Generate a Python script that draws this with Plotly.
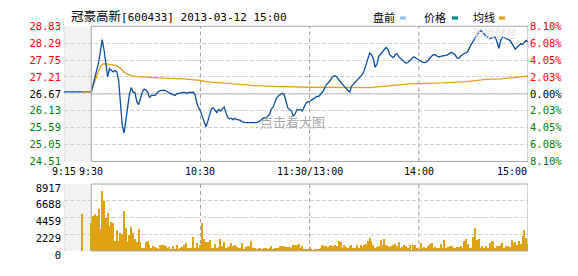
import plotly.graph_objects as go

# ---------------- data ----------------
prev_close = 26.67
price_ticks = [24.51, 25.05, 25.59, 26.13, 26.67, 27.21, 27.75, 28.29, 28.83]
pct_labels = ["8.10%", "6.08%", "4.05%", "2.03%", "0.00%", "2.03%", "4.05%", "6.08%", "8.10%"]
vol_ticks = [0, 2229, 4459, 6688, 8917]
time_tick_minutes = [-15, 0, 60, 120, 180, 240]
time_tick_labels = ["9:15", "9:30", "10:30", "11:30/13:00", "14:00", "15:00"]

pre_minutes = [-15, 0]
pre_prices = [26.73, 26.73]
auction_minute = [-5]
auction_volume = [4940]

# one value per trading minute, 9:30 .. 11:30, 13:00 .. 15:00
price = [
    26.73, 26.97, 27.17, 27.47, 27.67, 28.02, 28.40, 28.07, 27.67, 27.22,
    27.47, 27.42, 27.37, 27.42, 27.37, 27.12, 26.37, 25.67, 25.42, 25.87,
    26.27, 26.67, 26.87, 26.72, 26.72, 26.42, 26.32, 26.57, 26.72, 26.82,
    26.79, 26.72, 26.55, 26.62, 26.62, 26.62, 26.69, 26.75, 26.77, 26.79,
    26.79, 26.77, 26.72, 26.69, 26.67, 26.65, 26.62, 26.67, 26.69, 26.69,
    26.71, 26.72, 26.69, 26.71, 26.72, 26.72, 26.72, 26.65, 26.37, 26.22,
    26.12, 25.95, 25.77, 25.62, 25.79, 26.02, 26.19, 26.22, 26.15, 26.07,
    26.17, 26.12, 26.19, 26.25, 26.07, 25.92, 25.87, 25.89, 25.84, 25.89,
    25.85, 25.84, 25.82, 25.77, 25.75, 25.75, 25.75, 25.75, 25.76, 25.77,
    25.75, 25.75, 25.79, 25.81, 25.87, 25.91, 25.89, 25.97, 26.02, 26.19,
    26.25, 26.42, 26.55, 26.62, 26.65, 26.69, 26.65, 26.47, 26.22, 26.17,
    26.12, 25.97, 26.02, 26.17, 26.15, 26.17, 26.12, 26.25, 26.37, 26.42,
    26.42, 26.47, 26.52, 26.57, 26.59, 26.59, 26.65, 26.72, 26.82, 26.95,
    27.01, 27.07, 27.17, 27.23, 27.25, 27.21, 27.12, 27.04, 26.97, 26.91,
    26.85, 26.77, 26.72, 26.91, 26.97, 27.03, 27.09, 27.17, 27.23, 27.29,
    27.42, 27.62, 27.85, 27.97, 27.92, 27.79, 27.52, 27.62, 27.87, 27.94,
    28.02, 28.10, 28.15, 28.09, 27.92, 27.87, 27.83, 27.91, 27.95, 27.85,
    27.80, 27.75, 27.69, 27.65, 27.67, 27.72, 27.79, 27.85, 27.83, 27.79,
    27.74, 27.71, 27.68, 27.67, 27.68, 27.73, 27.81, 27.87, 27.92, 27.92,
    27.88, 27.85, 27.87, 27.87, 27.89, 27.90, 27.92, 27.97, 27.99, 27.96,
    27.91, 27.82, 27.81, 27.88, 27.93, 27.96, 27.98, 28.03, 28.17, 28.27,
    28.34, 28.44, 28.55, 28.64, 28.70, 28.63, 28.56, 28.51, 28.48, 28.43,
    28.46, 28.48, 28.48, 28.33, 28.12, 28.38, 28.48, 28.47, 28.44, 28.41,
    28.38, 28.30, 28.22, 28.10, 28.16, 28.22, 28.27, 28.25, 28.30, 28.38, 28.33,
]

avg_minutes = [-5, 0, 1, 2, 3, 4, 5, 6, 8, 10, 12, 14, 16, 18, 20, 22, 25, 30, 35, 40,
               50, 57, 60, 63, 70, 75, 80, 85, 90, 100, 110, 120, 153, 159, 166, 175,
               188, 193, 206, 212, 217, 225, 232, 240]
avg_prices = [26.73, 26.73, 26.92, 27.09, 27.27, 27.42, 27.55, 27.62, 27.63, 27.61,
              27.59, 27.57, 27.49, 27.37, 27.29, 27.25, 27.22, 27.20, 27.18, 27.17,
              27.15, 27.13, 27.10, 27.06, 27.03, 27.01, 26.98, 26.95, 26.93, 26.91,
              26.89, 26.88, 26.87, 26.91, 26.94, 26.99, 27.00, 27.02, 27.06, 27.11,
              27.13, 27.15, 27.19, 27.24]

volume = [
    3770, 4690, 4900, 4610, 5530, 2930, 7960, 6700, 4320, 5030,
    3350, 3900, 3690, 1380, 2720, 1260, 2430, 2300, 5280, 3060,
    1170, 2100, 3140, 2390, 1550, 1130, 2890, 1130, 420, 340,
    1130, 1340, 840, 340, 630, 500, 340, 210, 750, 750,
    750, 630, 340, 500, 250, 630, 250, 750, 250, 380,
    500, 750, 1050, 340, 340, 340, 1890, 340, 1050, 340,
    840, 3770,
    1550, 1130, 1130, 1470, 340, 340, 920, 340, 500, 1550,
    630, 1170, 420, 500, 670, 1050, 670, 750, 500, 340,
    340, 1010, 290, 500, 630, 630, 1260,
    340, 340, 290, 340, 340, 290, 340, 340,
    250, 340, 590, 210, 340, 340, 420, 670, 590, 590, 500, 500,
    500, 340, 750, 750, 840, 920, 340, 630, 210, 250, 170, 500,
    130, 80, 210, 170, 170, 340, 840, 590, 630, 550,
    840, 630, 670, 840, 630, 1260, 1170, 420, 750, 500,
    420, 630, 750, 340, 340, 750, 340, 750, 500, 840,
    920, 1260, 1760, 1260, 750, 340, 500, 630, 1510, 840,
    1590, 840, 630, 500, 630, 750, 960, 630, 1170, 340,
    500, 750, 630, 340, 750, 80, 750, 750, 340, 210,
    1010, 340, 500, 340, 630, 920, 1010, 340, 500, 340,
    340, 920, 340, 1510, 340, 500, 630, 630, 340, 340,
    500, 500, 630, 340, 1260, 1590, 920, 340, 340, 1890,
    3060, 1430, 1550, 340, 630, 340, 630, 340, 1050, 1260,
    1130, 340, 630, 630, 750, 1050, 340, 630, 630, 500,
    1510, 1050, 1130, 840, 1260, 920, 2010, 2770, 1760, 920,
]

# ---------------- styling ----------------
BLUE = "#0b4ea2"
GOLD = "#e0a212"
RED = "#ff0000"
GREEN = "#008000"
MONO = "DejaVu Sans Mono, Liberation Mono, monospace"
CJK = "DejaVu Sans Mono, Noto Sans CJK SC, sans-serif"

minutes = list(range(len(price)))


def colored(text, value):
    if value > prev_close + 1e-9:
        c = RED
    elif value < prev_close - 1e-9:
        c = GREEN
    else:
        c = "#000000"
    return f"<span style='color:{c}'>{text}</span>"


left_text = [colored(f"{v:.2f}", v) for v in price_ticks]
right_text = [colored(t, v) for t, v in zip(pct_labels, price_ticks)]

fig = go.Figure()
fig.add_trace(go.Scatter(x=pre_minutes, y=pre_prices, mode="lines",
                         line=dict(color=BLUE, width=1.3), xaxis="x", yaxis="y",
                         hoverinfo="skip"))
fig.add_trace(go.Scatter(x=avg_minutes, y=avg_prices, mode="lines",
                         line=dict(color=GOLD, width=1.3), xaxis="x", yaxis="y"))
fig.add_trace(go.Scatter(x=minutes, y=price, mode="lines",
                         line=dict(color=BLUE, width=1.3), xaxis="x", yaxis="y"))
fig.add_trace(go.Scatter(x=minutes, y=price, mode="lines", opacity=0,
                         xaxis="x", yaxis="y2", hoverinfo="skip"))
fig.add_trace(go.Bar(x=auction_minute + minutes, y=auction_volume + volume,
                     marker=dict(color=GOLD, line=dict(width=0)), width=0.6,
                     xaxis="x2", yaxis="y3"))

xdom = [64 / 578, 528 / 578]
pdom = [1 - 165 / 276, 1 - 21.5 / 276]
vdom = [1 - 260 / 276, 1 - 189 / 276]
GRID = "#d2d2d2"

axis_common = dict(showgrid=False, zeroline=False, showline=False, showticklabels=False,
                   ticks="", range=[-15, 240], domain=xdom, fixedrange=True)

fig.update_layout(
    width=578, height=276, margin=dict(l=0, r=0, t=0, b=0),
    paper_bgcolor="white", plot_bgcolor="white", showlegend=False, bargap=0,
    xaxis=dict(anchor="y", **axis_common),
    xaxis2=dict(anchor="y3", **axis_common),
    yaxis=dict(domain=pdom, range=[24.51, 28.83], tickvals=price_ticks, ticktext=left_text,
               showgrid=True, gridcolor=GRID, griddash="4px,2px", gridwidth=1,
               zeroline=False, showline=False, ticks="", ticklabelstandoff=2,
               tickfont=dict(family=MONO, size=10.5), anchor="x", fixedrange=True),
    yaxis2=dict(overlaying="y", side="right", range=[24.51, 28.83], tickvals=price_ticks,
                ticktext=right_text, showgrid=False, zeroline=False, showline=False,
                ticks="", ticklabelstandoff=1, tickfont=dict(family=MONO, size=10.5),
                anchor="x", fixedrange=True),
    yaxis3=dict(domain=vdom, range=[0, 8917], tickvals=vol_ticks,
                ticktext=[str(v) for v in vol_ticks],
                showgrid=True, gridcolor=GRID, griddash="4px,2px", gridwidth=1,
                zeroline=False, showline=False, ticks="", ticklabelstandoff=2,
                ticklabelshift=4,
                tickfont=dict(family=MONO, size=10.5, color="#000"), anchor="x2",
                fixedrange=True),
)

shapes = []
# pre-market shaded area
for xr, yr in (("x", "y domain"), ("x2", "y3 domain")):
    shapes.append(dict(type="rect", xref=xr, yref=yr, x0=-15, x1=0, y0=0, y1=1,
                       fillcolor="#f2f2f2", line=dict(width=0), layer="below"))
    shapes.append(dict(type="line", xref=xr, yref=yr, x0=-15, x1=-15, y0=0, y1=1,
                       line=dict(color="#cccccc", width=1, dash="4px,2px"), layer="below"))
    for t in (60, 120, 180):
        shapes.append(dict(type="line", xref=xr, yref=yr, x0=t, x1=t, y0=0, y1=1,
                           line=dict(color="#a0a0a0", width=1, dash="4px,3px"), layer="below"))
    shapes.append(dict(type="rect", xref=xr, yref=yr, x0=0, x1=240, y0=0, y1=1,
                       line=dict(color="#a6a6a6", width=1), layer="above"))
# previous close line
shapes.append(dict(type="line", xref="x", yref="y", x0=0, x1=240, y0=prev_close, y1=prev_close,
                   line=dict(color="#a6a6a6", width=1), layer="below"))
# legend swatches
for x0, col in ((400, "#8fc6ee"), (452, "#078c80"), (499, "#e0a626")):
    shapes.append(dict(type="rect", xref="paper", yref="paper",
                       x0=x0 / 578, x1=(x0 + 6) / 578, y0=1 - 14.5 / 276, y1=1 - 11 / 276,
                       fillcolor=col, line=dict(width=0)))
fig.update_layout(shapes=shapes)

ann = []
ann.append(dict(xref="paper", yref="paper", x=69 / 578, y=1 - 11 / 276, xanchor="left",
                yanchor="middle", showarrow=False,
                text="<span style='font-size:12.5px'>冠豪高新</span>[600433] 2013-03-12 15:00",
                font=dict(family=CJK, size=11, color="#000")))
for label, x in (("盘前", 371), ("价格", 422), ("均线", 471)):
    ann.append(dict(xref="paper", yref="paper", x=x / 578, y=1 - 12 / 276, xanchor="left",
                    yanchor="middle", showarrow=False, text=label,
                    font=dict(family="Noto Sans CJK SC", size=11, color="#000")))
for t, lab in zip(time_tick_minutes, time_tick_labels):
    anchor = "right" if t == time_tick_minutes[-1] else "center"
    ann.append(dict(xref="x", yref="paper", x=t, y=1 - 176 / 276, xanchor=anchor,
                    yanchor="middle", showarrow=False, text=lab, xshift=1 if anchor == "right" else 0,
                    font=dict(family=MONO, size=10, color="#000")))
ann.append(dict(xref="paper", yref="paper", x=292 / 578, y=1 - 123 / 276, xanchor="center",
                yanchor="middle", showarrow=False, text="点击看大图",
                font=dict(family="Noto Sans CJK SC", size=13, color="#a8a8a8")))
ann.append(dict(xref="paper", yref="paper", x=495 / 578, y=1 - 29 / 276, xanchor="center",
                yanchor="middle", showarrow=False, text="新浪财经",
                font=dict(family="Noto Sans CJK SC", size=11, color="#e4e4e4")))
fig.update_layout(annotations=ann)

fig.write_html("out.html")
